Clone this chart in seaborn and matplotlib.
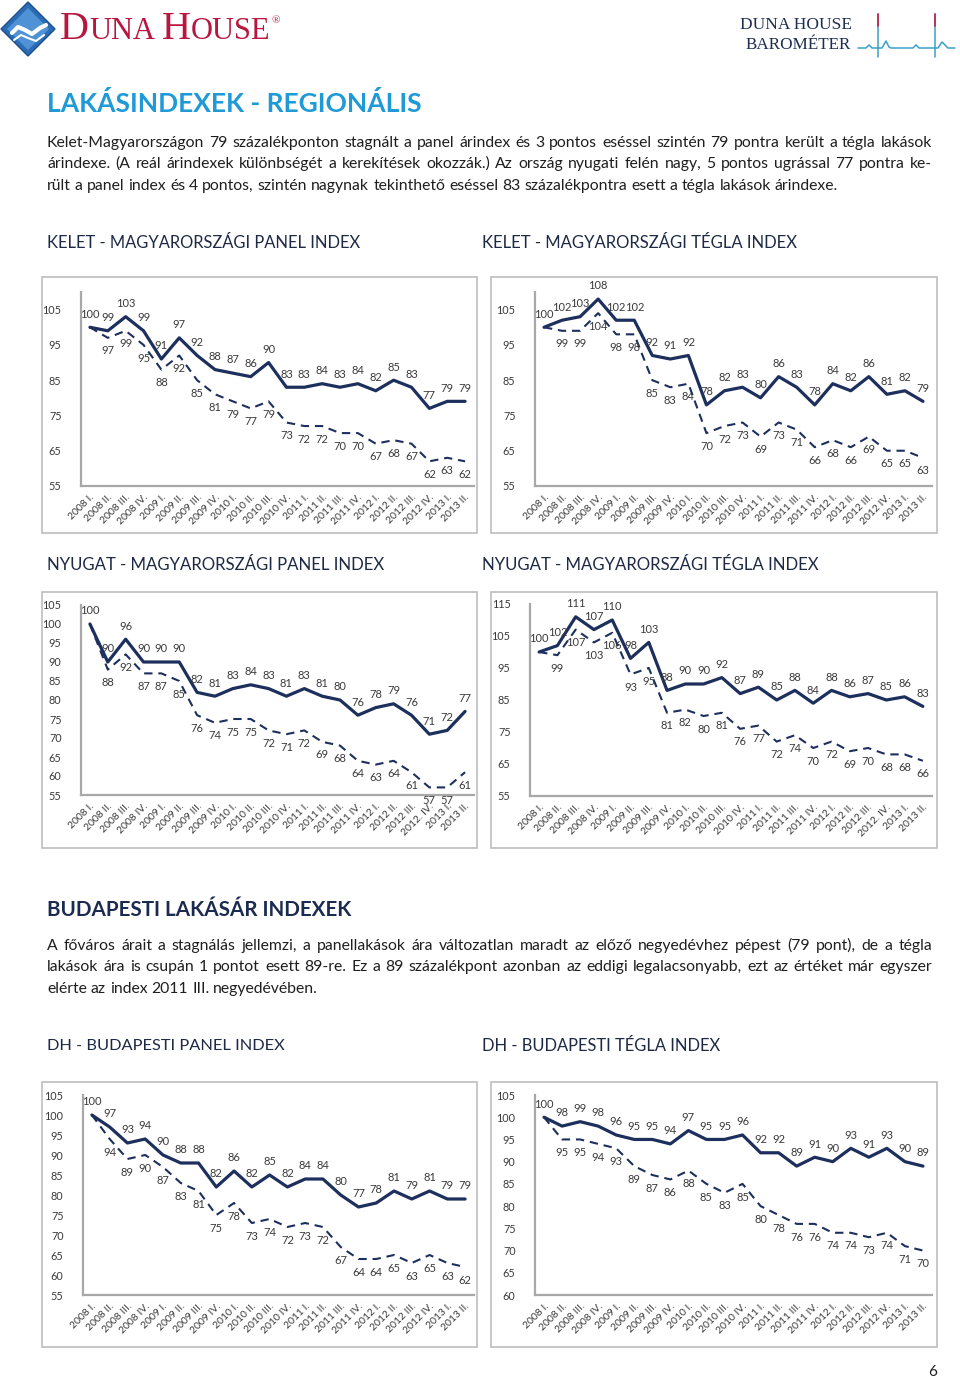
import numpy as np
import pandas as pd
import matplotlib
matplotlib.use("Agg")
import matplotlib.pyplot as plt
import seaborn as sns
from matplotlib.patches import Rectangle, Polygon
from matplotlib.lines import Line2D

# ---------------- data ----------------
quarters = ["2008 I.", "2008 II.", "2008 III.", "2008 IV.", "2009 I.", "2009 II.",
            "2009 III.", "2009 IV.", "2010 I.", "2010 II.", "2010 III.", "2010 IV.",
            "2011 I.", "2011 II.", "2011 III.", "2011 IV.", "2012 I.", "2012 II.",
            "2012 III.", "2012 IV.", "2013 I.", "2013 II."]
quarters_alt = quarters[:19] + ["2012. IV.", "2013 I.", "2013 II."]

kelet_panel_solid = [100, 99, 103, 99, 91, 97, 92, 88, 87, 86, 90, 83, 83, 84, 83, 84, 82, 85, 83, 77, 79, 79]
kelet_panel_dash = [100, 97, 99, 95, 88, 92, 85, 81, 79, 77, 79, 73, 72, 72, 70, 70, 67, 68, 67, 62, 63, 62]

kelet_tegla_solid = [100, 102, 103, 108, 102, 102, 92, 91, 92, 78, 82, 83, 80, 86, 83, 78, 84, 82, 86, 81, 82, 79]
kelet_tegla_dash = [100, 99, 99, 104, 98, 98, 85, 83, 84, 70, 72, 73, 69, 73, 71, 66, 68, 66, 69, 65, 65, 63]

nyugat_panel_solid = [100, 90, 96, 90, 90, 90, 82, 81, 83, 84, 83, 81, 83, 81, 80, 76, 78, 79, 76, 71, 72, 77]
nyugat_panel_dash = [100, 88, 92, 87, 87, 85, 76, 74, 75, 75, 72, 71, 72, 69, 68, 64, 63, 64, 61, 57, 57, 61]

nyugat_tegla_solid = [100, 102, 111, 107, 110, 98, 103, 88, 90, 90, 92, 87, 89, 85, 88, 84, 88, 86, 87, 85, 86, 83]
nyugat_tegla_dash = [100, 99, 107, 103, 106, 93, 95, 81, 82, 80, 81, 76, 77, 72, 74, 70, 72, 69, 70, 68, 68, 66]

bp_panel_solid = [100, 97, 93, 94, 90, 88, 88, 82, 86, 82, 85, 82, 84, 84, 80, 77, 78, 81, 79, 81, 79, 79]
bp_panel_dash = [100, 94, 89, 90, 87, 83, 81, 75, 78, 73, 74, 72, 73, 72, 67, 64, 64, 65, 63, 65, 63, 62]

bp_tegla_solid = [100, 98, 99, 98, 96, 95, 95, 94, 97, 95, 95, 96, 92, 92, 89, 91, 90, 93, 91, 93, 90, 89]
bp_tegla_dash = [100, 95, 95, 94, 93, 89, 87, 86, 88, 85, 83, 85, 80, 78, 76, 76, 74, 74, 73, 74, 71, 70]

titles = ["KELET - MAGYARORSZÁGI PANEL INDEX", "KELET - MAGYARORSZÁGI TÉGLA INDEX",
          "NYUGAT - MAGYARORSZÁGI PANEL INDEX", "NYUGAT - MAGYARORSZÁGI TÉGLA INDEX",
          "DH - BUDAPESTI PANEL INDEX", "DH - BUDAPESTI TÉGLA INDEX"]

ticks_1 = [55, 65, 75, 85, 95, 105]
ticks_2 = [55, 65, 75, 85, 95, 105]
ticks_3 = [55, 60, 65, 70, 75, 80, 85, 90, 95, 100, 105]
ticks_4 = [55, 65, 75, 85, 95, 105, 115]
ticks_5 = [55, 60, 65, 70, 75, 80, 85, 90, 95, 100, 105]
ticks_6 = [60, 65, 70, 75, 80, 85, 90, 95, 100, 105]

para1 = ["Kelet-Magyarországon 79 százalékponton stagnált a panel árindex és 3 pontos eséssel szintén 79 pontra került a tégla lakások",
         "árindexe. (A reál árindexek különbségét a kerekítések okozzák.) Az ország nyugati felén nagy, 5 pontos ugrással 77 pontra ke-",
         "rült a panel index és 4 pontos, szintén nagynak tekinthető eséssel 83 százalékpontra esett a tégla lakások árindexe."]
para2 = ["A főváros árait a stagnálás jellemzi, a panellakások ára változatlan maradt az előző negyedévhez pépest (79 pont), de a tégla",
         "lakások ára is csupán 1 pontot esett 89-re. Ez a 89 százalékpont azonban az eddigi legalacsonyabb, ezt az értéket már egyszer",
         "elérte az index 2011 III. negyedévében."]

# ---------------- setup ----------------
W, H = 960, 1380
sns.set_theme(style="white")
plt.rcParams["font.family"] = ["Lato", "DejaVu Sans"]

fig = plt.figure(figsize=(W / 100, H / 100), dpi=100)
fig.patch.set_facecolor("white")
renderer = fig.canvas.get_renderer()


def fx(x):
    return x / W


def fy(y):
    return 1 - y / H


def width_of(a):
    return a.get_window_extent(renderer).width


def fit_text(x, y, s, width, size0=12, **kw):
    a = fig.text(fx(x), fy(y), s, fontsize=size0, **kw)
    w = width_of(a)
    a.set_fontsize(size0 * width / w)
    return a


def para_line(x0, x1, ybase, text, size, justify, color):
    words = text.split(" ")
    arts = [fig.text(0, 0, w, fontsize=size, color=color, va="baseline") for w in words]
    widths = [width_of(a) for a in arts]
    if justify and len(words) > 1:
        gap = (x1 - x0 - sum(widths)) / (len(words) - 1)
    else:
        sp = fig.text(0, 0, "a a", fontsize=size)
        sp2 = fig.text(0, 0, "aa", fontsize=size)
        gap = width_of(sp) - width_of(sp2)
        sp.remove(); sp2.remove()
    x = x0
    for a, w in zip(arts, widths):
        a.set_position((fx(x), fy(ybase)))
        x += w + gap


NAVY = "#1d2f5c"
TXT = "#1e1e1e"
LBL = "#3a3a3a"

# ---------------- header ----------------
diamond = Polygon([(fx(28), fy(2)), (fx(55), fy(29)), (fx(28), fy(56)), (fx(1), fy(29))],
                  closed=True, transform=fig.transFigure, facecolor="#2b6cb5", edgecolor="#1b4f8f", lw=1)
fig.patches.append(diamond)
inner = Polygon([(fx(28), fy(8)), (fx(49), fy(29)), (fx(28), fy(50)), (fx(7), fy(29))],
                closed=True, transform=fig.transFigure, facecolor="#4f93d6", edgecolor="none")
fig.patches.append(inner)
fig.lines.append(Line2D([fx(12), fx(18), fx(25), fx(32), fx(40), fx(46)],
                        [fy(33), fy(27), fy(30), fy(34), fy(28), fy(25)],
                        transform=fig.transFigure, color="white", lw=3))
fig.lines.append(Line2D([fx(14), fx(21), fx(28), fx(36), fx(44)],
                        [fy(40), fy(35), fy(38), fy(41), fy(35)],
                        transform=fig.transFigure, color="white", lw=1.5))

xr = 60
for t, s in [("D", 29), ("UNA", 22), (" ", 22), ("H", 29), ("OUSE", 22)]:
    a = fig.text(fx(xr), fy(39), t, fontsize=s, color="#b8163f", family="Liberation Serif", va="baseline")
    w = width_of(a)
    if t == " ":
        w = 7
    xr += w
fig.text(fx(xr + 1), fy(23), "®", fontsize=8, color="#b8163f", family="Liberation Serif", va="baseline")

fit_text(740, 25, "DUNA HOUSE", 111, family="Liberation Serif", color="#1d2d50", va="center")
fit_text(746, 45, "BAROMÉTER", 105, family="Liberation Serif", color="#1d2d50", va="center")
ecg_x = [858, 866, 869, 872, 876, 882, 886, 889, 891, 894, 898, 904, 913, 916, 919, 924, 928, 931, 934, 938, 942, 948, 955]
ecg_y = [48, 48, 45, 48, 48, 48, 41, 47, 48, 48, 48, 48, 48, 45, 48, 48, 48, 48, 48, 48, 42, 48, 48]
fig.lines.append(Line2D([fx(v) for v in ecg_x], [fy(v) for v in ecg_y], transform=fig.transFigure,
                        color="#3a9fc9", lw=1.1))
for sx in [878, 935]:
    fig.lines.append(Line2D([fx(sx), fx(sx)], [fy(48), fy(14)], transform=fig.transFigure, color="#3a9fc9", lw=1.1))
    fig.lines.append(Line2D([fx(sx), fx(sx)], [fy(14), fy(26)], transform=fig.transFigure, color="#c2294f", lw=1.3))
    fig.lines.append(Line2D([fx(sx), fx(sx)], [fy(48), fy(57)], transform=fig.transFigure, color="#3a9fc9", lw=1.1))

# ---------------- section texts ----------------
fit_text(47, 104, "LAKÁSINDEXEK - REGIONÁLIS", 375, fontweight="bold", color="#1f9ad6", va="center")

probe = fig.text(0, 0, para1[2], fontsize=10)
psize = 10 * 791 / width_of(probe)
probe.remove()
for line, yb, j in zip(para1, [147, 168, 190], [True, True, False]):
    para_line(47, 932, yb, line, psize, j, TXT)

fit_text(47, 910, "BUDAPESTI LAKÁSÁR INDEXEK", 306, fontweight="bold", color="#1b2b50", va="center")
for line, yb, j in zip(para2, [950, 971, 993], [True, True, False]):
    para_line(47, 932, yb, line, psize, j, TXT)

fig.text(fx(928), fy(1372), "6", fontsize=11, color=TXT, va="center")

# ---------------- charts ----------------
charts = [
    dict(title=titles[0], tpos=(47, 243, 313), box=(42, 277, 477, 533), ax=(81, 292, 474, 486),
         ylim=(55, 110), yt=ticks_1, s=kelet_panel_solid, d=kelet_panel_dash, q=quarters),
    dict(title=titles[1], tpos=(482, 243, 315), box=(491, 277, 937, 533), ax=(535, 292, 932, 486),
         ylim=(55, 110), yt=ticks_2, s=kelet_tegla_solid, d=kelet_tegla_dash, q=quarters),
    dict(title=titles[2], tpos=(47, 565, 336), box=(42, 592, 477, 848), ax=(81, 605, 474, 795),
         ylim=(55, 105), yt=ticks_3, s=nyugat_panel_solid, d=nyugat_panel_dash, q=quarters_alt),
    dict(title=titles[3], tpos=(482, 565, 338), box=(491, 592, 937, 848), ax=(530, 604, 932, 796),
         ylim=(55, 115), yt=ticks_4, s=nyugat_tegla_solid, d=nyugat_tegla_dash, q=quarters_alt),
    dict(title=titles[4], tpos=(47, 1046, 236), box=(42, 1082, 477, 1347), ax=(83, 1095, 474, 1295),
         ylim=(55, 105), yt=ticks_5, s=bp_panel_solid, d=bp_panel_dash, q=quarters),
    dict(title=titles[5], tpos=(482, 1046, 238), box=(491, 1082, 937, 1347), ax=(535, 1095, 932, 1295),
         ylim=(60, 105), yt=ticks_6, s=bp_tegla_solid, d=bp_tegla_dash, q=quarters),
]

for c in charts:
    tx, ty, tw = c["tpos"]
    fit_text(tx, ty, c["title"], tw, color="#1e2a45", va="center")
    bl, bt, br, bb = c["box"]
    fig.patches.append(Rectangle((fx(bl), fy(bb)), (br - bl) / W, (bb - bt) / H, transform=fig.transFigure,
                                 facecolor="none", edgecolor="#bdbdbd", lw=1.2))
    l, t, r, b = c["ax"]
    ax = fig.add_axes([fx(l), fy(b), (r - l) / W, (b - t) / H])
    ax.set_facecolor("none")
    df = pd.DataFrame({"x": np.arange(len(c["q"])), "solid": c["s"], "dashed": c["d"]})
    sns.lineplot(data=df, x="x", y="dashed", ax=ax, color=NAVY, lw=1.5, linestyle=(0, (4, 2.8)))
    sns.lineplot(data=df, x="x", y="solid", ax=ax, color=NAVY, lw=2.3)
    for i, v in enumerate(c["s"]):
        ax.annotate(str(v), (i, v), xytext=(0, 5.5), textcoords="offset points", ha="center", va="bottom",
                    fontsize=8, color=LBL)
    for i, v in enumerate(c["d"]):
        if i == 0:
            continue
        ax.annotate(str(v), (i, v), xytext=(0, -5.5), textcoords="offset points", ha="center", va="top",
                    fontsize=8, color=LBL)
    ax.set_xlim(-0.5, 21.5)
    ax.set_ylim(*c["ylim"])
    ax.set_yticks(c["yt"])
    ax.set_yticklabels([str(v) for v in c["yt"]], fontsize=7.8, color=LBL)
    ax.set_xticks(np.arange(len(c["q"])))
    ax.set_xticklabels(c["q"], rotation=45, ha="right", rotation_mode="anchor", fontsize=7.5, color=LBL)
    ax.tick_params(axis="y", length=0, pad=14)
    ax.tick_params(axis="x", length=0, pad=5)
    ax.set_xlabel("")
    ax.set_ylabel("")
    for sp in ["top", "right"]:
        ax.spines[sp].set_visible(False)
    for sp in ["left", "bottom"]:
        ax.spines[sp].set_color("#a8a8a8")
        ax.spines[sp].set_linewidth(1.6)

fig.savefig("out.png", dpi=100, facecolor="white")
